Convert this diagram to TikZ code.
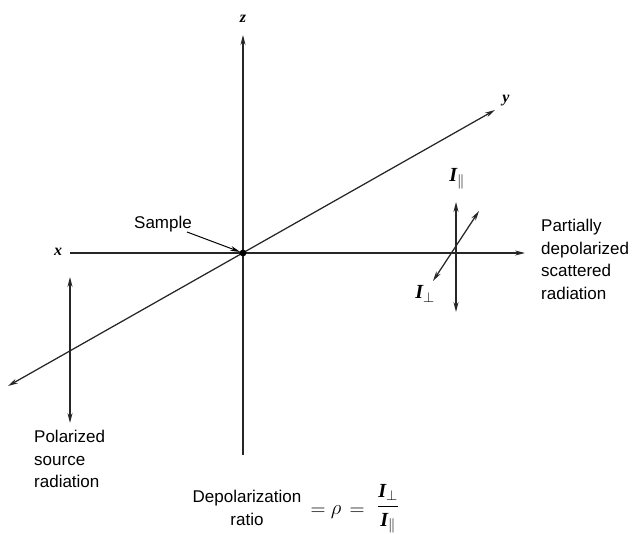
\documentclass[tikz,border=0pt]{standalone}
\usepackage[no-math]{fontspec}
\setmainfont{Liberation Sans}
\newfontfamily\serf{Liberation Serif}
\usetikzlibrary{arrows.meta}
\newcommand{\ivar}[1]{{\serf\bfseries\itshape #1}}
\begin{document}
\begin{tikzpicture}[x=1pt,y=-1pt,
  axis/.style={line width=1.25pt, black!85},
  tip/.style={-{Stealth[length=10pt,width=5pt]}},
  tips/.style={{Stealth[length=10pt,width=5pt]}-{Stealth[length=10pt,width=5pt]}},
  lab/.style={font=\fontsize{17}{22.5}\selectfont, align=left, inner sep=0},
  axlab/.style={font=\fontsize{16}{18}\selectfont, inner sep=0},
  ml/.style={font=\fontsize{20}{22}\selectfont, inner sep=0}]
\useasboundingbox (0,0) rectangle (635,534);
% axes
\coordinate (O) at (243,253);
\coordinate (zb) at (243,455);
\coordinate (zt) at (243,35);
\coordinate (xl) at (70,253);
\coordinate (xr) at (525,253);
\coordinate (yl) at (8,386);
\coordinate (yr) at (495,110);
\draw[axis,tip] (zb) -- (zt);
\draw[axis,tip] (xl) -- (xr);
\draw[axis,tips] (yl) -- (yr);
\fill (O) circle (3.4);
\node[axlab] (zlab) at (243,19) {\ivar{z}};
\node[axlab] (xlab) at (58,252) {\ivar{x}};
\node[axlab] (ylab) at (506,101) {\ivar{y}};
% source polarization
\coordinate (pt) at (70,277);
\coordinate (pb) at (70,423);
\draw[axis,tips] (pt) -- (pb);
\node[lab,anchor=north west] (src) at (34,430) {Polarized\\source\\radiation};
% scattered polarization
\coordinate (vt) at (456,202);
\coordinate (vb) at (456,312);
\coordinate (dl) at (433,281);
\coordinate (du) at (479,211);
\draw[axis,tips] (vt) -- (vb);
\draw[axis,tips] (dl) -- (du);
\node[ml] (ipar) at (457,179) {\ivar{I}$_\parallel$};
\node[ml] (iperp) at (425,294) {\ivar{I}$_\perp$};
\node[lab,anchor=north west] (scat) at (541,219) {Partially\\depolarized\\scattered\\radiation};
% sample
\node[lab] (sample) at (163,224) {Sample};
\draw[line width=1pt,tip,shorten >=3pt] (187,232) -- (O);
% ratio
\node[lab,align=center] (ratio) at (247,508) {Depolarization\\ratio};
\node[ml] (eq1) at (318,512) {$=$};
\node[ml] (rho) at (336,512) {$\rho$};
\node[ml] (eq2) at (357,512) {$=$};
\node[ml] (frac) at (388,509) {$\displaystyle\frac{\hbox{\ivar{I}}_\perp}{\hbox{\ivar{I}}_\parallel}$};
\end{tikzpicture}
\end{document}
